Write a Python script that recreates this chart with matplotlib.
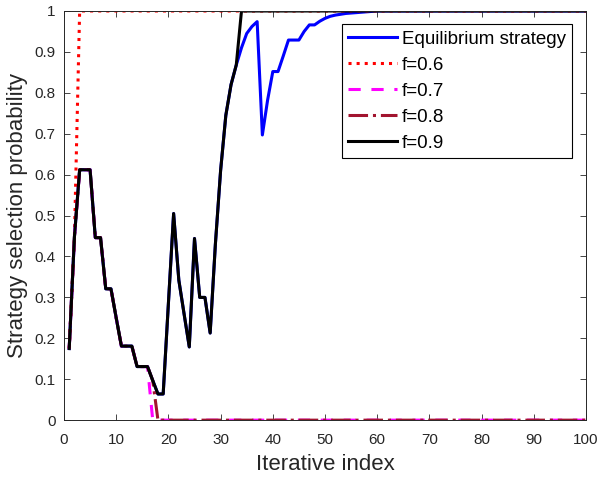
import matplotlib
matplotlib.use("Agg")
import matplotlib.pyplot as plt
import numpy as np

plt.rcParams['font.family'] = ['Liberation Sans', 'DejaVu Sans']

# iteration index
x = np.arange(1, 101)

# shared early part (iterations 1-33)
head = [0.175, 0.448, 0.612, 0.612, 0.612, 0.446, 0.446, 0.321, 0.321, 0.25,
        0.181, 0.181, 0.181, 0.131, 0.131, 0.131, 0.097, 0.064, 0.064, 0.285,
        0.505, 0.342, 0.26, 0.179, 0.444, 0.30, 0.30, 0.213, 0.43, 0.61,
        0.745, 0.82, 0.868]

# equilibrium strategy after iteration 33
eq_tail = [0.91, 0.945, 0.962, 0.974, 0.697, 0.782, 0.852, 0.852, 0.89, 0.929,
           0.929, 0.929, 0.95, 0.966, 0.966, 0.975, 0.982, 0.987, 0.99, 0.992,
           0.994, 0.995, 0.996, 0.997, 0.998, 0.999]
equilibrium = head + eq_tail + [1.0] * (100 - len(head) - len(eq_tail))

f06 = [0.175, 0.448] + [1.0] * 98
f07 = head[:16] + [0.0] * 84
f08 = head[:17] + [0.0] * 83
f09 = head + [1.0] * 67

fig = plt.figure(figsize=(5.98, 4.78), dpi=100)
ax = fig.add_axes([0.107, 0.121, 0.873, 0.856])

lw = 2.2
ax.plot(x, equilibrium, color=(0, 0, 1), lw=lw, label='Equilibrium strategy')
ax.plot(x, f06, color=(1, 0, 0), lw=lw, ls=':', label='f=0.6')
ax.plot(x, f07, color=(1, 0, 1), lw=lw, ls=(0, (4, 3.5)), label='f=0.7')
ax.plot(x, f08, color=(0.635, 0.078, 0.184), lw=lw, ls='-.', label='f=0.8')
ax.plot(x, f09, color='black', lw=lw, label='f=0.9')

ax.set_xlim(0, 100)
ax.set_ylim(0, 1)
ax.set_xticks(np.arange(0, 101, 10))
yt = np.round(np.arange(0, 1.01, 0.1), 1)
ax.set_yticks(yt)
ax.set_yticklabels(['0'] + ['%.1f' % v for v in yt[1:-1]] + ['1'])

ax.tick_params(direction='in', top=True, right=True, length=4.5, width=0.6,
               labelsize=11, colors=(0.15, 0.15, 0.15))
ax.tick_params(axis='x', pad=9)
ax.tick_params(axis='y', pad=6)
for s in ax.spines.values():
    s.set_color((0.15, 0.15, 0.15))
    s.set_linewidth(0.7)

ax.set_xlabel('Iterative index', fontsize=16, color=(0.15, 0.15, 0.15), labelpad=5)
ax.set_ylabel('Strategy selection probability', fontsize=16, color=(0.15, 0.15, 0.15), labelpad=5)

leg = ax.legend(loc='upper right', bbox_to_anchor=(0.974, 0.968), fontsize=13.5,
                fancybox=False, framealpha=1, edgecolor='black',
                handlelength=2.6, handletextpad=0.25, labelspacing=0.47,
                borderpad=0.35, borderaxespad=0)
leg.get_frame().set_linewidth(0.8)

fig.savefig('out.png', dpi=100)
